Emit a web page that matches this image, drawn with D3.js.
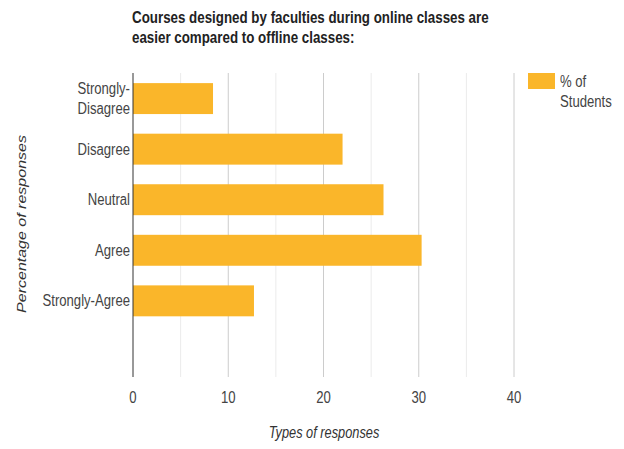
<!DOCTYPE html>
<html>
<head>
<meta charset="utf-8">
<script src="https://cdn.jsdelivr.net/npm/d3@7"></script>
<style>
  html, body { margin: 0; padding: 0; background: #fff; }
  svg { display: block; font-family: "Liberation Sans", Arial, sans-serif; }
</style>
</head>
<body>
<svg id="chart" width="624" height="449"></svg>
<script>
// Survey responses (% of students); the last row is an empty slot
const categories = ["Strongly-Disagree", "Disagree", "Neutral", "Agree", "Strongly-Agree", ""];
const categoryLines = [["Strongly-", "Disagree"], ["Disagree"], ["Neutral"], ["Agree"], ["Strongly-Agree"], []];
const percentStudents = [8.4, 22.0, 26.3, 30.3, 12.7, null];
const xTicks = [0, 10, 20, 30, 40];
const xMinorTicks = [5, 15, 25, 35];
const titleLines = ["Courses designed by faculties during online classes are",
                    "easier compared to offline classes:"];
const seriesName = ["% of", "Students"];
const xTitle = "Types of responses";
const yTitle = "Percentage of responses";

const svg = d3.select("#chart");
const plot = { left: 133, right: 514, top: 73, bottom: 377 };
const barColor = "#fab62a";
const textColor = "#444";
const sx = 0.82;   // narrow glyph width used throughout the chart text

const x = d3.scaleLinear().domain([0, 40]).range([plot.left, plot.right]);
const y = d3.scaleBand().domain(categories).range([plot.top, plot.bottom])
  .paddingInner(0.388).paddingOuter(0.2);

// text placed with a horizontal squeeze
function label(g, px, py, str, opts = {}) {
  const t = g.append("text")
    .attr("transform", `translate(${px},${py}) scale(${opts.sx || sx},1)` + (opts.rotate ? ` rotate(${opts.rotate})` : ""))
    .attr("text-anchor", opts.anchor || "start")
    .attr("font-size", opts.size || 16)
    .attr("fill", opts.fill || textColor)
    .text(str);
  if (opts.weight) t.attr("font-weight", opts.weight);
  if (opts.italic) t.attr("font-style", "italic");
  return t;
}

// gridlines
const grid = svg.append("g");
grid.selectAll("line.minor").data(xMinorTicks).join("line")
  .attr("class", "minor")
  .attr("x1", d => x(d)).attr("x2", d => x(d))
  .attr("y1", plot.top).attr("y2", plot.bottom)
  .attr("stroke", "#ebebeb").attr("stroke-width", 1);
grid.selectAll("line.major").data(xTicks.filter(d => d !== 0)).join("line")
  .attr("class", "major")
  .attr("x1", d => x(d)).attr("x2", d => x(d))
  .attr("y1", plot.top).attr("y2", plot.bottom)
  .attr("stroke", "#cccccc").attr("stroke-width", 1);

// bars
const rows = categories.map((c, i) => ({ c, v: percentStudents[i], lines: categoryLines[i] }));
svg.append("g").selectAll("rect").data(rows.filter(d => d.v != null)).join("rect")
  .attr("x", x(0))
  .attr("y", d => y(d.c))
  .attr("width", d => x(d.v) - x(0))
  .attr("height", y.bandwidth())
  .attr("fill", barColor);

// baseline at zero
svg.append("line")
  .attr("x1", x(0)).attr("x2", x(0))
  .attr("y1", plot.top).attr("y2", plot.bottom)
  .attr("stroke", "#333").attr("stroke-width", 1);

// x tick labels
const xAxisG = svg.append("g");
xTicks.forEach(t => label(xAxisG, x(t), 403, d3.format("d")(t), { anchor: "middle" }));

// category labels
const yAxisG = svg.append("g");
rows.forEach(d => {
  const cy = y(d.c) + y.bandwidth() / 2;
  const n = d.lines.length;
  d.lines.forEach((ln, j) => {
    const ly = cy + (j - (n - 1) / 2) * 20 + 5.5;
    label(yAxisG, plot.left - 3, ly, ln, { anchor: "end" });
  });
});

// titles
const titleG = svg.append("g");
titleLines.forEach((ln, i) =>
  label(titleG, 132, 23 + i * 19.5, ln, { size: 16, weight: "bold", fill: "#222", sx: 0.835 }));

label(svg, 324, 438, xTitle, { anchor: "middle", italic: true, fill: "#333", sx: 0.8 });
label(svg, 26, 224, yTitle, { anchor: "middle", italic: true, fill: "#333", rotate: -90 });

// legend
const legend = svg.append("g");
legend.append("rect").attr("x", 528).attr("y", 73).attr("width", 27).attr("height", 16).attr("fill", barColor);
seriesName.forEach((ln, i) => label(legend, 560, 87 + i * 20, ln));
</script>
</body>
</html>
